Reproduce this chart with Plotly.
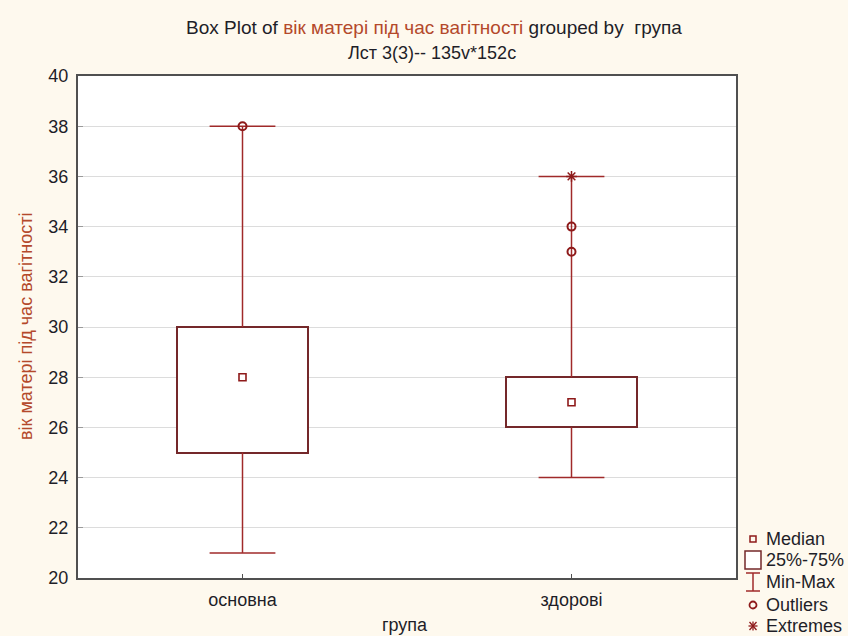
import plotly.graph_objects as go

# Box statistics per group (Statistica-style: median, 25%-75%, min-max)
groups = ["основна", "здорові"]
whisker_min = [21, 24]
quart_lo = [25, 26]
medians = [28, 27]
quart_hi = [30, 28]
whisker_max = [38, 36]

# Individual points flagged as outliers / extremes
outlier_grp = [0, 1, 1]
outlier_val = [38, 34, 33]
extreme_grp = [1]
extreme_val = [36]

y_ticks = [20, 22, 24, 26, 28, 30, 32, 34, 36, 38, 40]
legend_labels = ["Median", "25%-75%", "Min-Max", "Outliers", "Extremes"]

# Styling
W, H = 848, 636
ML, MR, MT, MB = 78, 112, 76, 58
PAPER = "#FEF9EE"
BOX_CLR = "#74282A"
WHISK_CLR = "#A02A2A"
PT_CLR = "#8E1A1A"
AXIS_CLR = "#505050"
TXT_CLR = "#1E1E28"
ACCENT = "#B4492B"
FONT = "Liberation Sans, Arial, sans-serif"
BOX_W = 0.4
CAP_HALF = 0.1

pos = list(range(len(groups)))

fig = go.Figure()

# Boxes (25%-75%) as floating bars
fig.add_trace(go.Bar(
    x=pos,
    y=[hi - lo for hi, lo in zip(quart_hi, quart_lo)],
    base=quart_lo,
    width=BOX_W,
    marker=dict(color="white", line=dict(color=BOX_CLR, width=2)),
    hoverinfo="skip",
    showlegend=False,
))

# Whiskers with caps (min-max)
wx, wy = [], []
for i in pos:
    wx += [i, i, None, i, i, None]
    wy += [quart_hi[i], whisker_max[i], None, quart_lo[i], whisker_min[i], None]
    wx += [i - CAP_HALF, i + CAP_HALF, None, i - CAP_HALF, i + CAP_HALF, None]
    wy += [whisker_max[i], whisker_max[i], None, whisker_min[i], whisker_min[i], None]
fig.add_trace(go.Scatter(
    x=wx, y=wy, mode="lines",
    line=dict(color=WHISK_CLR, width=1.5),
    hoverinfo="skip", showlegend=False,
))

# Medians
fig.add_trace(go.Scatter(
    x=pos, y=medians, mode="markers",
    marker=dict(symbol="square-open", size=7, color=PT_CLR, line=dict(width=1.6)),
    showlegend=False,
))

# Outliers
fig.add_trace(go.Scatter(
    x=outlier_grp, y=outlier_val, mode="markers",
    marker=dict(symbol="circle-open", size=8, color=PT_CLR, line=dict(width=2)),
    showlegend=False,
))

# Extremes
fig.add_trace(go.Scatter(
    x=extreme_grp, y=extreme_val, mode="markers",
    marker=dict(symbol="asterisk-open", size=9, color=PT_CLR, line=dict(width=1.5)),
    showlegend=False,
))


def px_x(px):
    return (px - ML) / (W - ML - MR)


def px_y(py):
    return (H - MB - py) / (H - MT - MB)


shapes = []
annotations = []

# Hand-drawn key in the lower right corner
key_x = 753
key_text_x = 764
key_rows = [539, 560, 582, 605, 626]

cx = px_x(key_x)
# Median icon
r = key_rows[0]
shapes.append(dict(type="rect", xref="paper", yref="paper", xsizemode="pixel", ysizemode="pixel",
                   xanchor=cx, yanchor=px_y(r), x0=-3, x1=3, y0=-3, y1=3,
                   line=dict(color=PT_CLR, width=1.5), fillcolor="rgba(0,0,0,0)"))
# 25%-75% icon
r = key_rows[1]
shapes.append(dict(type="rect", xref="paper", yref="paper", xsizemode="pixel", ysizemode="pixel",
                   xanchor=cx, yanchor=px_y(r), x0=-8, x1=8, y0=-9, y1=9,
                   line=dict(color=BOX_CLR, width=1.5), fillcolor="white"))
# Min-Max icon
r = key_rows[2]
for y0, y1, x0, x1 in [(-9, 9, 0, 0), (9, 9, -7, 7), (-9, -9, -7, 7)]:
    shapes.append(dict(type="line", xref="paper", yref="paper", xsizemode="pixel", ysizemode="pixel",
                       xanchor=cx, yanchor=px_y(r), x0=x0, x1=x1, y0=y0, y1=y1,
                       line=dict(color=WHISK_CLR, width=1.5)))
# Outliers icon
r = key_rows[3]
shapes.append(dict(type="circle", xref="paper", yref="paper", xsizemode="pixel", ysizemode="pixel",
                   xanchor=cx, yanchor=px_y(r), x0=-3.5, x1=3.5, y0=-3.5, y1=3.5,
                   line=dict(color=PT_CLR, width=1.8), fillcolor="rgba(0,0,0,0)"))
# Extremes icon (asterisk)
r = key_rows[4]
for x0, y0, x1, y1 in [(-4.5, 0, 4.5, 0), (-3.5, -4, 3.5, 4), (-3.5, 4, 3.5, -4), (0, -4.5, 0, 4.5)]:
    shapes.append(dict(type="line", xref="paper", yref="paper", xsizemode="pixel", ysizemode="pixel",
                       xanchor=cx, yanchor=px_y(r), x0=x0, x1=x1, y0=y0, y1=y1,
                       line=dict(color=PT_CLR, width=1.3)))

for lab, r in zip(legend_labels, key_rows):
    annotations.append(dict(text=lab, xref="paper", yref="paper", x=px_x(key_text_x), y=px_y(r),
                            xanchor="left", yanchor="middle", showarrow=False,
                            font=dict(family=FONT, size=18, color=TXT_CLR)))

# Two-line title
annotations.append(dict(
    text=("Box Plot of <span style='color:%s'>вік матері під час вагітності</span> grouped by &nbsp;група" % ACCENT),
    xref="paper", yref="paper", x=px_x(434), y=px_y(27), xanchor="center", yanchor="middle",
    showarrow=False, font=dict(family=FONT, size=19, color=TXT_CLR)))
annotations.append(dict(
    text="Лст 3(3)-- 135v*152c",
    xref="paper", yref="paper", x=px_x(432), y=px_y(53), xanchor="center", yanchor="middle",
    showarrow=False, font=dict(family=FONT, size=18, color=TXT_CLR)))

# Axis titles
annotations.append(dict(
    text="вік матері під час вагітності", textangle=-90,
    xref="paper", yref="paper", x=px_x(26), y=px_y(326), xanchor="center", yanchor="middle",
    showarrow=False, font=dict(family=FONT, size=18, color=ACCENT)))
annotations.append(dict(
    text="група",
    xref="paper", yref="paper", x=px_x(405), y=px_y(625), xanchor="center", yanchor="middle",
    showarrow=False, font=dict(family=FONT, size=18, color=TXT_CLR)))

fig.update_layout(
    width=W, height=H,
    margin=dict(l=ML, r=MR, t=MT, b=MB),
    paper_bgcolor=PAPER,
    plot_bgcolor="white",
    bargap=0,
    font=dict(family=FONT, color=TXT_CLR),
    shapes=shapes,
    annotations=annotations,
    showlegend=False,
    xaxis=dict(
        range=[-0.5, len(groups) - 0.5],
        tickmode="array", tickvals=pos, ticktext=groups,
        showgrid=False, zeroline=False,
        showline=True, mirror=True, linecolor=AXIS_CLR, linewidth=2,
        ticks="inside", ticklen=4, tickcolor=AXIS_CLR,
        ticklabelstandoff=4,
        tickfont=dict(family=FONT, size=18, color=TXT_CLR),
    ),
    yaxis=dict(
        range=[20, 40],
        tickmode="array", tickvals=y_ticks,
        showgrid=True, gridcolor="#DCDCDC", gridwidth=1, zeroline=False,
        showline=True, mirror=True, linecolor=AXIS_CLR, linewidth=2,
        ticks="inside", ticklen=5, tickcolor="#9A9A9A",
        ticklabelstandoff=4,
        tickfont=dict(family=FONT, size=18, color=TXT_CLR),
    ),
)

fig.write_html("out.html")
